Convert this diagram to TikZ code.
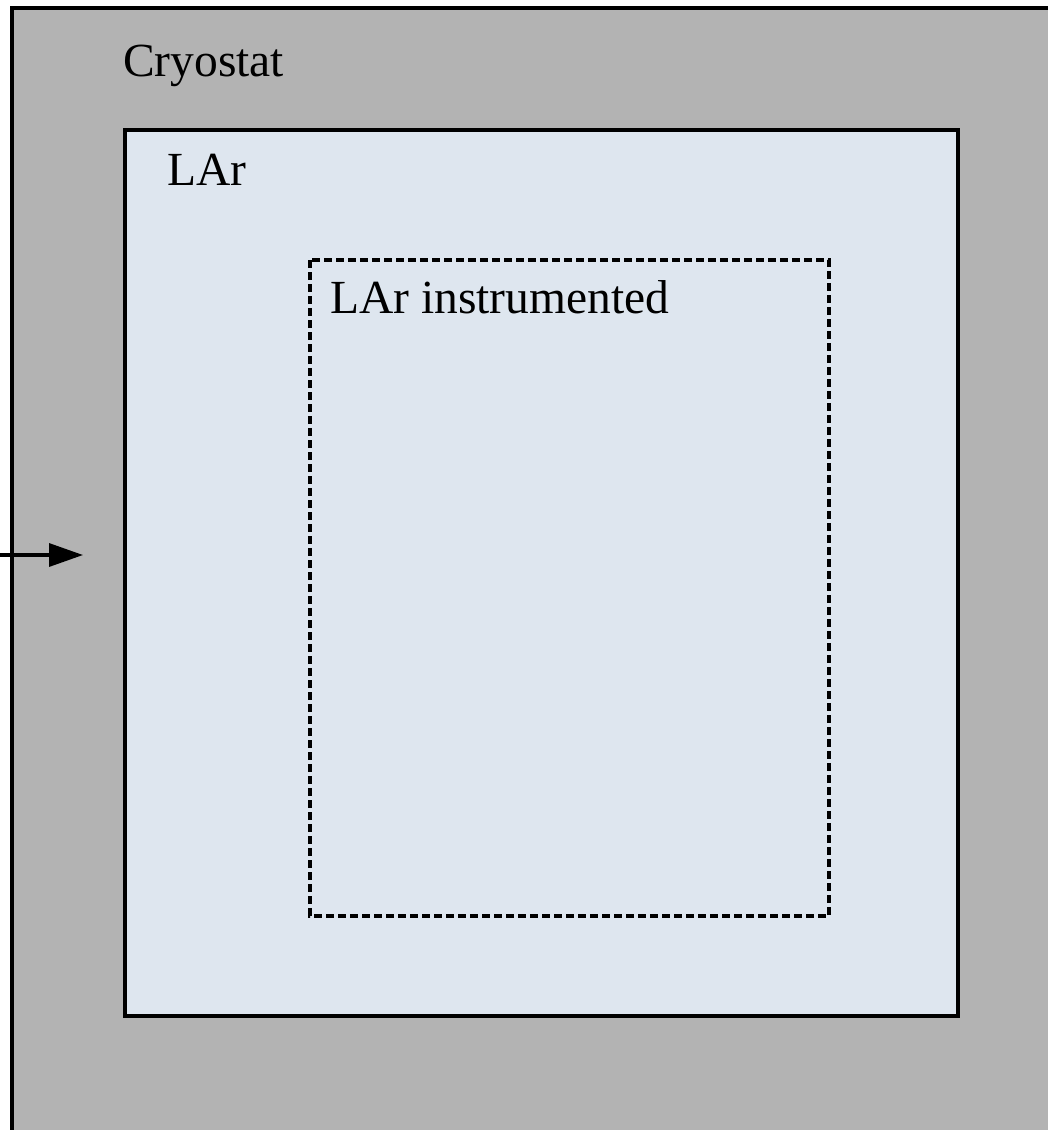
\documentclass[tikz,border=0pt]{standalone}
\usepackage{fontspec}
\setmainfont{Liberation Serif}
\usetikzlibrary{arrows.meta}
\definecolor{cryogray}{HTML}{B3B3B3}
\definecolor{larblue}{HTML}{DEE6EF}
\tikzset{
  wall/.style={draw=black, line width=3.6bp},
  fiducial/.style={draw=black, line width=3.4bp, dash pattern=on 8bp off 4bp},
  label/.style={anchor=base west, inner sep=0pt, font=\fontsize{47.5bp}{57bp}\selectfont},
  beam/.style={line width=3.4bp, -{Triangle[length=34bp, width=23bp]}}
}
\begin{document}
\begin{tikzpicture}[x=1bp, y=-1bp]
  \useasboundingbox (0,0) rectangle (1048,1130);
  \fill[white] (0,0) rectangle (1048,1130);
  \clip (0,0) rectangle (1048,1130);
  % cryostat vessel (continues past the right and bottom edges)
  \path[wall, fill=cryogray] (12,8) rectangle (1070,1150);
  \node[label] (cryo) at (123,76) {Cryostat};
  % liquid argon volume
  \path[wall, fill=larblue] (125,130) rectangle (958,1016);
  \node[label] (lar) at (167,185) {LAr};
  % instrumented region
  \path[fiducial] (310,260) rectangle (829,916);
  \node[label] (instr) at (330,313) {LAr instrumented};
  % incoming beam
  \coordinate (beamstart) at (-2,555);
  \coordinate (beamend) at (83,555);
  \draw[beam] (beamstart) -- (beamend);
\end{tikzpicture}
\end{document}
